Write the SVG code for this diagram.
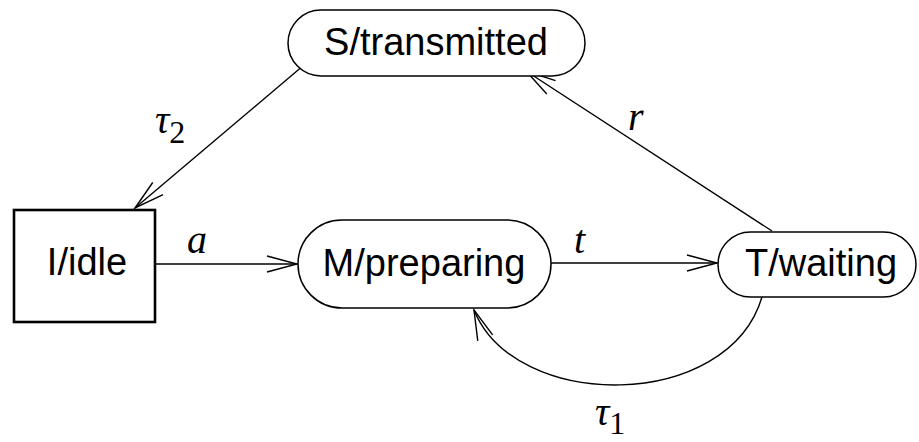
<svg xmlns="http://www.w3.org/2000/svg" width="919" height="442" viewBox="0 0 919 442">
<style>
.node{fill:#fff;stroke:#000;stroke-width:1.5}
.box{fill:#fff;stroke:#000;stroke-width:2.6}
.lbl{font-family:"Liberation Sans","DejaVu Sans",sans-serif;font-size:38px;fill:#000;text-anchor:middle}
.math{font-family:"Liberation Serif","DejaVu Serif",serif;font-style:italic;font-size:40px;fill:#000}
.sub{font-family:"Liberation Serif","DejaVu Serif",serif;font-style:normal;font-size:32px}
.edge{fill:none;stroke:#000;stroke-width:1.4}
</style>
<defs>
<marker id="arr" markerUnits="userSpaceOnUse" markerWidth="40" markerHeight="20" viewBox="-32 -10 34 20" refX="0" refY="0" orient="auto" overflow="visible">
<path d="M-30,-8 L0,0 L-30,8" fill="none" stroke="#000" stroke-width="1.4"/>
</marker>
</defs>
<g id="connectors">
<path class="edge" d="M155,264 L297,264" marker-end="url(#arr)"/>
<path class="edge" d="M551,263 L717,263" marker-end="url(#arr)"/>
<path class="edge" d="M772,231 L526,71" marker-end="url(#arr)"/>
<path class="edge" d="M304,65 L135,208" marker-end="url(#arr)"/>
<path class="edge" d="M762,297 C728,412 515,412 474,310" marker-end="url(#arr)"/>
<text class="math" x="187" y="253">a</text>
<text class="math" x="574" y="253">t</text>
<text class="math" x="628" y="130">r</text>
<text class="math" x="155" y="133">τ<tspan class="sub" dy="10">2</tspan></text>
<text class="math" x="595" y="425">τ<tspan class="sub" dy="9">1</tspan></text>
</g>
<g id="S">
<rect class="node" x="288" y="10" width="297" height="66" rx="33" ry="33"/>
<text class="lbl" x="436" y="55">S/transmitted</text>
</g>
<g id="I">
<rect class="box" x="14" y="210" width="141" height="112"/>
<text class="lbl" x="87" y="275">I/idle</text>
</g>
<g id="M">
<rect class="node" x="298" y="220" width="253" height="88" rx="44" ry="44"/>
<text class="lbl" x="424" y="276">M/preparing</text>
</g>
<g id="T">
<rect class="node" x="718" y="232" width="198" height="65" rx="32.5" ry="32.5"/>
<text class="lbl" x="821" y="276">T/waiting</text>
</g>
</svg>
